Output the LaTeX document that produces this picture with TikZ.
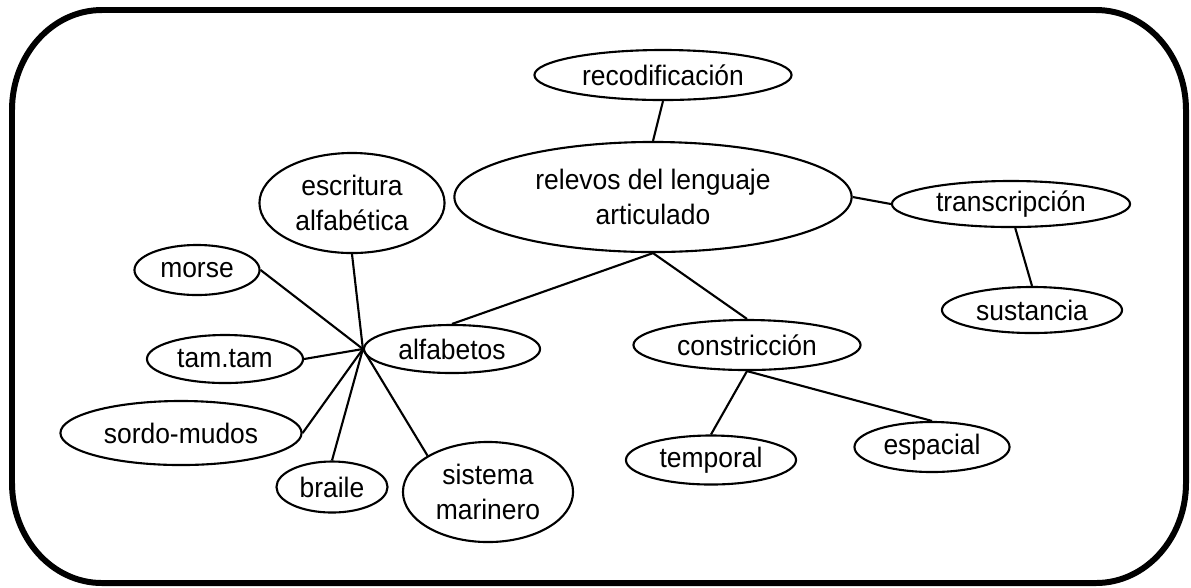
\documentclass[tikz,border=0pt]{standalone}
\usepackage{fontspec}
\setmainfont{Liberation Sans}[FakeStretch=0.94]
\usetikzlibrary{shapes.geometric}
\tikzset{every path/.style={line width=0.6pt}}
\tikzset{bubble/.style 2 args={ellipse,draw,inner sep=0pt,align=center,
  minimum width=#1cm,minimum height=#2cm,font=\fontsize{8}{10}\selectfont}}

\begin{document}
\begin{tikzpicture}[x=0.01cm,y=-0.01cm]
\useasboundingbox (0,0) rectangle (1191,587);
\draw[line width=1.7pt] (102,10) -- (1096,10) .. controls (1146,10) and (1186,55) .. (1186,110)
  -- (1186,483) .. controls (1186,538) and (1146,583) .. (1096,583) -- (102,583)
  .. controls (52,583) and (12,538) .. (12,483) -- (12,110) .. controls (12,55) and (52,10) .. (102,10) -- cycle;
\node[bubble={2.57}{0.50}] (reco) at (663,75) {recodificación};
\node[bubble={3.97}{1.10}] (rel) at (653,197) {relevos del lenguaje\\articulado};
\node[bubble={2.38}{0.46}] (trans) at (1011,204) {transcripción};
\node[bubble={1.80}{0.46}] (sus) at (1032,310) {sustancia};
\node[bubble={1.85}{1.00}] (escr) at (352,203) {escritura\\alfabética};
\node[bubble={1.25}{0.50}] (morse) at (197,270) {morse};
\node[bubble={1.76}{0.48}] (alf) at (452,349) {alfabetos};
\node[bubble={2.27}{0.50}] (con) at (747,345) {constricción};
\node[bubble={1.56}{0.48}] (tam) at (225,359) {tam.tam};
\node[bubble={2.41}{0.64}] (sordo) at (181,433) {sordo-mudos};
\node[bubble={1.11}{0.51}] (braile) at (332,487) {braile};
\node[bubble={1.70}{1.00}] (sis) at (488,492) {sistema\\marinero};
\node[bubble={1.70}{0.49}] (temp) at (711,460) {temporal};
\node[bubble={1.55}{0.50}] (esp) at (932,447) {espacial};
\draw (reco.south) -- (rel.north);
\draw (rel.east) -- (trans.west);
\draw (trans.-80) -- (sus.north);
\draw (rel.south) -- (alf.north);
\draw (rel.south) -- (con.north);
\draw (con.south) -- (temp.north);
\draw (con.south) -- (esp.north);
\draw (alf.west) -- (escr.south);
\draw (alf.west) -- (morse.east);
\draw (alf.west) -- (tam.east);
\draw (alf.west) -- (sordo.east);
\draw (alf.west) -- (braile.north);
\draw (alf.west) -- (sis.149);
\end{tikzpicture}
\end{document}
